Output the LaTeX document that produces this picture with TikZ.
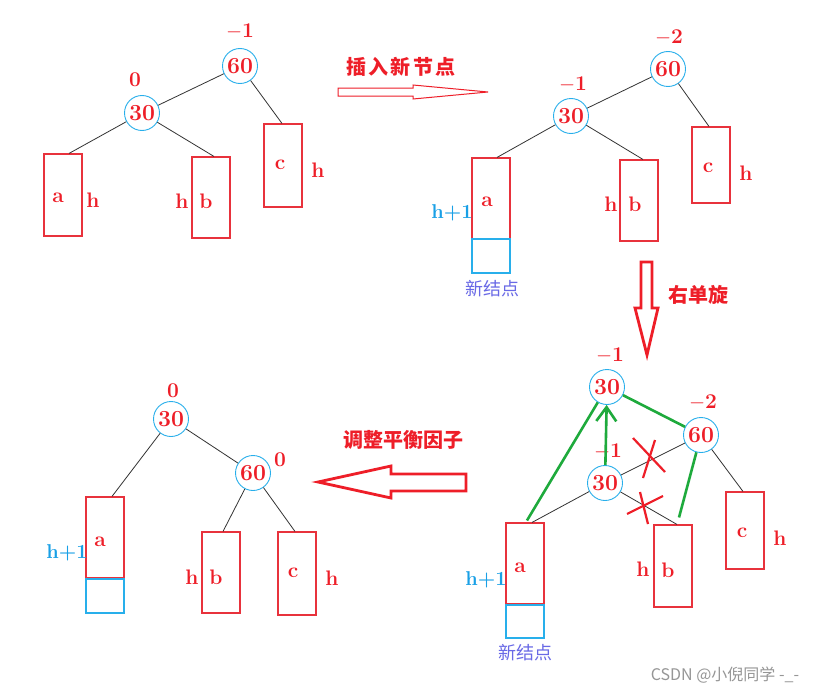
\documentclass[tikz,border=0pt]{standalone}
\usepackage{fontspec}
\newfontfamily\cjk{Noto Sans CJK SC}
\usetikzlibrary{arrows.meta}
\definecolor{rd}{RGB}{238,30,40}
\definecolor{bxr}{RGB}{232,50,60}
\definecolor{cb}{RGB}{40,175,235}
\definecolor{hb}{RGB}{25,160,230}
\definecolor{nj}{RGB}{105,105,230}
\definecolor{gr}{RGB}{30,170,60}
\definecolor{wm}{RGB}{150,150,150}
\begin{document}
\begin{tikzpicture}[x=1pt,y=-1pt,
  cir/.style={circle,draw=cb,line width=0.9pt,minimum size=35pt,inner sep=0pt,text=rd,font=\fontsize{23}{23}\selectfont\bfseries},
  bf/.style={text=rd,font=\fontsize{21}{21}\selectfont\bfseries,inner sep=0pt},
  lt/.style={text=rd,font=\fontsize{21}{21}\selectfont\bfseries,inner sep=0pt},
  hl/.style={text=hb,font=\fontsize{20}{20}\selectfont\bfseries,inner sep=0pt},
  box/.style={draw=bxr,line width=1.1pt,minimum width=38pt,inner sep=0pt},
  nbox/.style={draw=cb,line width=1.1pt,minimum width=38pt,minimum height=34pt,inner sep=0pt},
  edge/.style={draw=black!80,line width=0.8pt},
  gl/.style={draw=gr,line width=2.6pt},
  xm/.style={draw=rd,line width=2.2pt},
  cjkt/.style={text=rd,font=\cjk\bfseries\fontsize{20}{20}\selectfont,inner sep=0pt},
  newt/.style={text=nj,font=\cjk\fontsize{18}{18}\selectfont,inner sep=0pt},
  harrow/.style={draw=rd,line width=1pt},
  harrowt/.style={draw=rd,line width=2.8pt,line join=miter}]
\fill[white] (0,0) rectangle (830,693);
\useasboundingbox (0,0) rectangle (830,693);

% ---------- top-left tree ----------
\node[cir] (tl60) at (240,66) {60};
\node[bf] (tl60f) at (240,31) {$-$1};
\node[cir] (tl30) at (142,113) {30};
\node[bf] (tl30f) at (135,80) {0};
\node[box,minimum height=82pt] (tla) at (63,195) {};
\node[box,minimum height=81pt] (tlb) at (211,197.5) {};
\node[box,minimum height=83pt] (tlc) at (283,165.5) {};
\node[lt] (tlat) at (58,198) {a};
\node[lt] (tlah) at (93,200) {h};
\node[lt] (tlbt) at (206,201) {b};
\node[lt] (tlbh) at (182,201) {h};
\node[lt] (tlct) at (280,165) {c};
\node[lt] (tlch) at (318,170) {h};
\draw[edge] (tl60) -- (tl30);
\draw[edge] (tl30) -- ([xshift=6pt]tla.north);
\draw[edge] (tl30) -- ([xshift=3pt]tlb.north);
\draw[edge] (tl60) -- ([xshift=-1pt]tlc.north);

% ---------- insert arrow ----------
\node[cjkt] (ins) at (401,67) {\addfontfeature{LetterSpace=12}插入新节点};
\draw[harrow] (338,88) -- (413,88) -- (413,85) -- (488,92) -- (413,99) -- (413,96) -- (338,96) -- cycle;

% ---------- top-right tree ----------
\node[cir] (tr60) at (668,69) {60};
\node[bf] (tr60f) at (669,37) {$-$2};
\node[cir] (tr30) at (571,116) {30};
\node[bf] (tr30f) at (573,84) {$-$1};
\node[box,minimum height=81pt] (tra) at (491,198.5) {};
\node[nbox] (trn) at (491,256) {};
\node[box,minimum height=81pt] (trb) at (639,200.5) {};
\node[box,minimum height=76pt] (trc) at (711,165) {};
\node[lt] (trat) at (487,202) {a};
\node[hl] (trah) at (452,213) {h+1};
\node[newt] (trnt) at (492,289) {新结点};
\node[lt] (trbt) at (635,204) {b};
\node[lt] (trbh) at (611,204) {h};
\node[lt] (trct) at (708,168) {c};
\node[lt] (trch) at (746,173) {h};
\draw[edge] (tr60) -- (tr30);
\draw[edge] (tr30) -- ([xshift=6pt]tra.north);
\draw[edge] (tr30) -- ([xshift=4pt]trb.north);
\draw[edge] (tr60) -- ([xshift=-2pt]trc.north);

% ---------- rotate arrow ----------
\draw[harrowt] (641,262) -- (652,262) -- (652,308) -- (658,308) -- (647,355) -- (635,308) -- (641,308) -- cycle;
\node[cjkt] (rot) at (698,295) {右单旋};

% ---------- bottom-right tree ----------
\node[cir] (brt) at (607,387) {30};
\node[bf] (brtf) at (610,355) {$-$1};
\node[cir] (br60) at (701,435) {60};
\node[bf] (br60f) at (703,402) {$-$2};
\node[cir] (br30) at (605,483) {30};
\node[bf] (br30f) at (608,451) {$-$1};
\node[box,minimum height=81pt] (bra) at (525,563.5) {};
\node[nbox,minimum height=33pt] (brn) at (525,621.5) {};
\node[box,minimum height=82pt] (brb) at (673,566) {};
\node[box,minimum height=77pt] (brc) at (745,530.5) {};
\node[lt] (brat) at (520,568) {a};
\node[hl] (brah) at (486,580) {h+1};
\node[newt] (brnt) at (525,653) {新结点};
\node[lt] (brbt) at (668,570) {b};
\node[lt] (brbh) at (643,569) {h};
\node[lt] (brct) at (742,533) {c};
\node[lt] (brch) at (780,538) {h};
\draw[edge] (br60) -- (br30);
\draw[edge] (br30) -- ([xshift=7pt]bra.north);
\draw[edge] (br30) -- ([xshift=4pt]brb.north);
\draw[edge] (br60) -- ([xshift=-2pt]brc.north);
\draw[gl] (brt) -- ([xshift=2pt,yshift=2pt]bra.north);
\draw[gl] (brt) -- (br60);
\draw[gl] (br60) -- ([xshift=6pt,yshift=7pt]brb.north);
\draw[gl,-{Straight Barb[length=14pt,width=20pt]}] (br30) -- (brt);
\draw[xm] (633,438) -- (665,472);
\draw[xm] (655,440) -- (643,478);
\draw[xm] (627,514) -- (663,496);
\draw[xm] (640,492) -- (648,524);

% ---------- adjust arrow ----------
\node[cjkt] (adj) at (403,440) {调整平衡因子};
\draw[harrowt] (466,474) -- (391,474) -- (391,466) -- (318,482) -- (391,498) -- (391,491) -- (466,491) -- cycle;

% ---------- bottom-left tree ----------
\node[cir] (bl30) at (171,419) {30};
\node[bf] (bl30f) at (173,391) {0};
\node[cir] (bl60) at (253,473) {60};
\node[bf] (bl60f) at (280,460) {0};
\node[box,minimum height=81pt] (bla) at (105,537.5) {};
\node[nbox] (bln) at (105,596) {};
\node[box,minimum height=81pt] (blb) at (221,572.5) {};
\node[box,minimum height=83pt] (blc) at (297,573.5) {};
\node[lt] (blat) at (100,542) {a};
\node[hl] (blah) at (67,553) {h+1};
\node[lt] (blbt) at (216,577) {b};
\node[lt] (blbh) at (192,577) {h};
\node[lt] (blct) at (293,573) {c};
\node[lt] (blch) at (332,578) {h};
\draw[edge] (bl30) -- (bl60);
\draw[edge] (bl30) -- ([xshift=7pt]bla.north);
\draw[edge] (bl60) -- ([xshift=2pt]blb.north);
\draw[edge] (bl60) -- ([xshift=-2pt]blc.north);

% ---------- watermark ----------
\node[text=wm,font=\cjk\fontsize{16}{16}\selectfont,inner sep=0pt] (wmk) at (725,675) {CSDN @小倪同学 -\_-};
\end{tikzpicture}
\end{document}
